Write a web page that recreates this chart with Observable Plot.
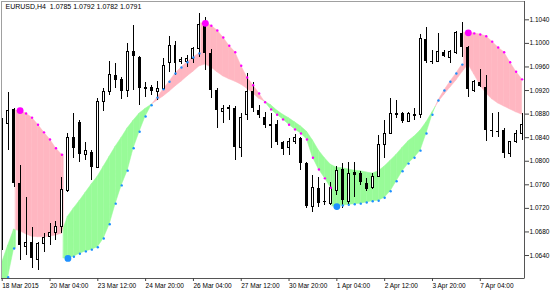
<!DOCTYPE html>
<html><head><meta charset="utf-8">
<script src="https://cdn.jsdelivr.net/npm/d3@7"></script>
<script src="https://cdn.jsdelivr.net/npm/@observablehq/plot@0.6"></script>
<style>body{margin:0;background:#fff;} #chart svg{display:block}</style>
</head><body><div id="chart"></div>
<script>
const title = "EURUSD,H4\u00a0\u00a01.0785 1.0792 1.0782 1.0791";
const xTickBars = [0, 8, 16, 24, 32, 40, 48, 56, 64, 72, 80];
const xTickLabels = ["18 Mar 2015","20 Mar 04:00","23 Mar 12:00","24 Mar 20:00","26 Mar 04:00","27 Mar 12:00","30 Mar 20:00","1 Apr 04:00","2 Apr 12:00","3 Apr 20:00","7 Apr 04:00"];
const yTicks = [1.0640, 1.0680, 1.0720, 1.0760, 1.0800, 1.0840, 1.0880, 1.0920, 1.0960, 1.1000, 1.1040];

const open = [1.0861,1.0864,1.0888,1.0762,1.0655,1.0662,1.0633,1.0659,1.0671,1.0679,
1.0688,1.0750,1.0840,1.0866,1.0811,1.0815,1.0789,1.0900,1.0917,1.0946,
1.0939,1.0920,1.0986,1.0976,1.0923,1.0925,1.0918,1.0923,1.0966,1.0996,
1.0968,1.0968,1.0974,1.0990,1.1034,1.0983,1.0920,1.0883,1.0889,1.0889,
1.0822,1.0878,1.0918,1.0886,1.0874,1.0859,1.0862,1.0832,1.0822,1.0832,
1.0839,1.0796,1.0723,1.0754,1.0732,1.0728,1.0750,1.0786,1.0730,1.0781,
1.0779,1.0762,1.0755,1.0774,1.0827,1.0847,1.0879,1.0881,1.0867,1.0879,
1.0878,1.1007,1.0969,1.0969,1.0985,1.0976,1.0983,1.1017,1.0993,1.0920,
1.0934,1.0925,1.0852,1.0850,1.0852,1.0813,1.0832,1.0847];
const high = [1.0873,1.0917,1.0889,1.0793,1.0738,1.0688,1.0662,1.0677,1.0694,1.0698,
1.0772,1.0847,1.0881,1.0869,1.0832,1.0818,1.0906,1.0923,1.0969,1.0966,
1.0942,1.0999,1.1030,1.0978,1.0934,1.0929,1.0935,1.0974,1.1012,1.1003,
1.0976,1.0979,1.0993,1.1051,1.1044,1.0990,1.0923,1.0895,1.0895,1.0893,
1.0881,1.0949,1.0934,1.0895,1.0883,1.0881,1.0869,1.0834,1.0839,1.0845,
1.0840,1.0798,1.0776,1.0772,1.0762,1.0764,1.0791,1.0796,1.0798,1.0798,
1.0783,1.0771,1.0779,1.0844,1.0869,1.0906,1.0903,1.0883,1.0883,1.0889,
1.1015,1.1027,1.0988,1.1017,1.0988,1.0988,1.1020,1.1035,1.0995,1.0937,
1.0956,1.0946,1.0881,1.0883,1.0856,1.0834,1.0852,1.0881];
const low = [1.0649,1.0818,1.0755,1.0632,1.0640,1.0618,1.0615,1.0645,1.0657,1.0666,
1.0677,1.0747,1.0805,1.0798,1.0801,1.0767,1.0788,1.0884,1.0912,1.0923,
1.0905,1.0908,1.0920,1.0895,1.0908,1.0912,1.0903,1.0920,1.0951,1.0946,
1.0964,1.0959,1.0966,1.0976,1.0954,1.0906,1.0856,1.0864,1.0869,1.0801,
1.0806,1.0869,1.0883,1.0873,1.0856,1.0822,1.0827,1.0810,1.0810,1.0828,
1.0784,1.0720,1.0713,1.0722,1.0725,1.0725,1.0742,1.0720,1.0725,1.0738,
1.0759,1.0749,1.0752,1.0772,1.0805,1.0845,1.0873,1.0864,1.0866,1.0869,
1.0873,1.0966,1.0964,1.0968,1.0976,1.0966,1.0981,1.0976,1.0908,1.0917,
1.0925,1.0834,1.0840,1.0840,1.0805,1.0806,1.0830,1.0835];
const close = [1.0849,1.0886,1.0762,1.0657,1.0662,1.0635,1.0660,1.0669,1.0679,1.0688,
1.0752,1.0840,1.0822,1.0811,1.0817,1.0789,1.0900,1.0917,1.0946,1.0937,
1.0918,1.0985,1.0978,1.0923,1.0925,1.0918,1.0923,1.0962,1.0996,1.0966,
1.0971,1.0974,1.0990,1.1032,1.0983,1.0920,1.0886,1.0889,1.0891,1.0823,
1.0874,1.0918,1.0889,1.0878,1.0861,1.0862,1.0832,1.0820,1.0832,1.0839,
1.0796,1.0723,1.0754,1.0728,1.0730,1.0755,1.0784,1.0733,1.0778,1.0776,
1.0764,1.0752,1.0774,1.0827,1.0847,1.0881,1.0881,1.0867,1.0881,1.0876,
1.1007,1.0969,1.0968,1.0985,1.0978,1.0985,1.1018,1.0993,1.0922,1.0935,
1.0927,1.0852,1.0850,1.0849,1.0813,1.0832,1.0847,1.0861];

// trailing-stop dots and their direction (1 = up / below price, -1 = down / above price)
const trail = [1.0585,1.0603,1.0652,1.0886,1.0881,1.0874,1.0862,1.0849,1.0837,1.0822,
1.0811,1.0635,1.0638,1.0643,1.0647,1.0650,1.0654,1.0669,1.0693,1.0728,
1.0759,1.0784,1.0822,1.0850,1.0876,1.0895,1.0908,1.0922,1.0935,1.0949,
1.0959,1.0968,1.0976,1.0983,1.1034,1.1030,1.1022,1.1010,1.0996,1.0985,
1.0962,1.0942,1.0929,1.0915,1.0900,1.0888,1.0879,1.0871,1.0862,1.0854,
1.0847,1.0837,1.0806,1.0786,1.0771,1.0755,1.0723,1.0725,1.0726,1.0727,
1.0728,1.0730,1.0732,1.0733,1.0738,1.0749,1.0766,1.0783,1.0796,1.0806,
1.0818,1.0847,1.0879,1.0903,1.0920,1.0935,1.0949,1.0964,1.1018,1.1017,
1.1015,1.1012,1.1003,1.0993,1.0985,1.0968,1.0952,1.0939];
const trailDir = [1,1,1,-1,-1,-1,-1,-1,-1,-1,
-1,1,1,1,1,1,1,1,1,1,
1,1,1,1,1,1,1,1,1,1,
1,1,1,1,-1,-1,-1,-1,-1,-1,
-1,-1,-1,-1,-1,-1,-1,-1,-1,-1,
-1,-1,-1,-1,-1,-1,1,1,1,1,
1,1,1,1,1,1,1,1,1,1,
1,1,1,1,1,1,1,1,-1,-1,
-1,-1,-1,-1,-1,-1,-1,-1];
// second (smoothed) line bounding the filled band
const band = [1.0628,1.0657,1.0684,1.0681,1.0676,1.0672,1.0671,1.0671,1.0672,1.0674,
1.0677,1.0706,1.0720,1.0733,1.0747,1.0761,1.0774,1.0791,1.0808,1.0825,
1.0840,1.0856,1.0869,1.0881,1.0889,1.0896,1.0903,1.0910,1.0918,1.0927,
1.0935,1.0944,1.0952,1.0961,1.0964,1.0959,1.0951,1.0944,1.0939,1.0935,
1.0930,1.0923,1.0915,1.0906,1.0901,1.0895,1.0886,1.0879,1.0873,1.0866,
1.0859,1.0850,1.0835,1.0818,1.0805,1.0794,1.0789,1.0788,1.0786,1.0784,
1.0783,1.0781,1.0779,1.0783,1.0791,1.0801,1.0811,1.0823,1.0834,1.0842,
1.0852,1.0866,1.0883,1.0900,1.0913,1.0925,1.0937,1.0951,1.0964,1.0947,
1.0929,1.0915,1.0905,1.0898,1.0893,1.0888,1.0883,1.0879];

const C = {up: "#1E90FF", down: "#FF00FF", green: "#98FB98", pink: "#FFB6C1"};
const xDomain = [-0.117, 87.40];
const yDomain = [1.06010, 1.10711];

const bars = open.map((o, i) => ({i, open: o, high: high[i], low: low[i], close: close[i],
  trail: trail[i], dir: trailDir[i], flip: i > 0 && trailDir[i] !== trailDir[i - 1]}));

// band polygons between trail and band line, green where band above trail, pink otherwise
const verts = [];
for (let i = 0; i < trail.length; i++) {
  if (i > 0 && trailDir[i] !== trailDir[i - 1]) {
    const xf = i - 0.7, t = xf - (i - 1);
    const b = band[i - 1] + (band[i] - band[i - 1]) * t;
    verts.push({x: xf, a: trail[i - 1], b});
    verts.push({x: xf, a: trail[i], b});
  }
  verts.push({x: i, a: trail[i], b: band[i]});
}
const polys = []; let seg = 0;
function addPoly(p0, p1, fill) {
  polys.push({x: p0.x, y1: p0.a, y2: p0.b, seg, fill}, {x: p1.x, y1: p1.a, y2: p1.b, seg, fill});
  seg++;
}
for (let k = 0; k < verts.length - 1; k++) {
  const v0 = verts[k], v1 = verts[k + 1];
  if (v1.x === v0.x) continue;
  const d0 = v0.b - v0.a, d1 = v1.b - v1.a;
  if (d0 * d1 >= 0) addPoly(v0, v1, (d0 + d1) >= 0 ? C.green : C.pink);
  else {
    const t = d0 / (d0 - d1);
    const ya = v0.a + t * (v1.a - v0.a);
    const c = {x: v0.x + t * (v1.x - v0.x), a: ya, b: ya};
    addPoly(v0, c, d0 > 0 ? C.green : C.pink);
    addPoly(c, v1, d1 > 0 ? C.green : C.pink);
  }
}

const up = bars.filter(d => d.close >= d.open);
const dn = bars.filter(d => d.close < d.open);
const hasAxisMarks = typeof Plot.axisX === "function";
const fmtX = d => xTickLabels[xTickBars.indexOf(d)];

const marks = [
  Plot.areaY(polys, {x: "x", y1: "y1", y2: "y2", z: "seg", fill: "fill", stroke: "fill", strokeWidth: 0.5, clip: true}),
  Plot.ruleX(bars, {x: "i", y1: "low", y2: "high", stroke: "#000", strokeWidth: 1, shapeRendering: "crispEdges", clip: true}),
  Plot.rect(dn, {x1: d => d.i - 0.25, x2: d => d.i + 0.25, y1: "open", y2: "close", fill: "#000", shapeRendering: "crispEdges", clip: true}),
  Plot.rect(up, {x1: d => d.i - 0.17, x2: d => d.i + 0.17, y1: "open", y2: "close", fill: "#fff", stroke: "#000", strokeWidth: 1, shapeRendering: "crispEdges", clip: true}),
  Plot.dot(bars.filter(d => !d.flip), {x: "i", y: "trail", r: 1.2, fill: d => d.dir > 0 ? C.up : C.down, clip: true}),
  Plot.dot(bars.filter(d => d.flip), {x: "i", y: "trail", r: 3.4, fill: d => d.dir > 0 ? C.up : C.down, clip: true}),
  Plot.frame({stroke: "#a0a0a0", shapeRendering: "crispEdges"}),
  Plot.ruleX([xDomain[1]], {stroke: "#555", shapeRendering: "crispEdges"}),
  Plot.ruleY([yDomain[0]], {stroke: "#555", shapeRendering: "crispEdges"}),
  Plot.text([title], {frameAnchor: "top-left", dx: 4, dy: 3, textAnchor: "start", lineAnchor: "top", fontSize: 7, fill: "#000"})
];
if (hasAxisMarks) {
  marks.push(
    Plot.axisX(xTickBars, {anchor: "bottom", tickSize: 3, tickPadding: 2, tickFormat: fmtX, textAnchor: "start", label: null, fontSize: 6.5, stroke: "#444"}),
    Plot.axisY(yTicks, {anchor: "right", tickSize: 4, tickPadding: 1, tickFormat: d => d.toFixed(4), label: null, fontSize: 6.5, stroke: "#444"})
  );
}

const chart = Plot.plot({
  width: 560, height: 294,
  marginLeft: 1, marginRight: 36, marginTop: 1, marginBottom: 16,
  style: {fontFamily: "Liberation Sans, Arial, sans-serif", fontSize: "6.5px", color: "#000", background: "#fff"},
  x: hasAxisMarks ? {domain: xDomain, label: null}
    : {domain: xDomain, label: null, ticks: xTickBars, tickFormat: fmtX, tickSize: 3, tickPadding: 2},
  y: hasAxisMarks ? {domain: yDomain, label: null}
    : {domain: yDomain, label: null, axis: "right", ticks: yTicks, tickFormat: d => d.toFixed(4), tickSize: 4, tickPadding: 1},
  color: {type: "identity"},
  marks
});
document.getElementById("chart").appendChild(chart);
</script>
</body></html>
